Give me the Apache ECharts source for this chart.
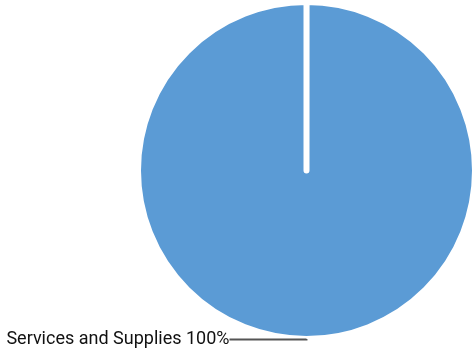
<!DOCTYPE html>
<html>
<head>
<meta charset="utf-8">
<script src="https://cdn.jsdelivr.net/npm/echarts@6/dist/echarts.min.js"></script>
<style>
html,body{margin:0;padding:0;background:#fff;}
#c{width:474px;height:352px;}
</style>
</head>
<body>
<div id="c"></div>
<script>
var categories = ['Services and Supplies'];
var values = [100];

function pieData() {
  return categories.map(function (c, i) { return {name: c, value: values[i]}; });
}

var common = {
  type: 'pie',
  center: [306.5, 170.5],
  radius: 168.5,
  clockwise: true,
  startAngle: 89.99,
  padAngle: 0.02,
  avoidLabelOverlap: false,
  silent: true,
  emphasis: { disabled: true }
};

var chart = echarts.init(document.getElementById('c'), null, {renderer: 'canvas'});
chart.setOption({
  animation: false,
  backgroundColor: '#ffffff',
  series: [
    Object.assign({}, common, {
      z: 2,
      data: pieData(),
      itemStyle: {
        color: '#5B9BD5',
        borderColor: '#ffffff',
        borderWidth: 6,
        borderJoin: 'round'
      },
      label: { show: false },
      labelLine: { show: false }
    }),
    Object.assign({}, common, {
      z: 5,
      data: pieData(),
      itemStyle: { color: 'rgba(0,0,0,0)', borderWidth: 0 },
      label: {
        show: true,
        position: 'outside',
        formatter: function (p) { return p.name + ' ' + Math.round(p.percent) + '%'; },
        fontFamily: 'Roboto, "Liberation Sans", Arial, sans-serif',
        fontSize: 18,
        color: '#111111',
        distanceToLabelLine: 0
      },
      labelLine: {
        show: true,
        showAbove: true,
        length: 0.5,
        length2: 77,
        smooth: false,
        minTurnAngle: 0,
        maxSurfaceAngle: 180,
        lineStyle: { color: '#555555', width: 2 }
      }
    })
  ]
});
</script>
</body>
</html>
